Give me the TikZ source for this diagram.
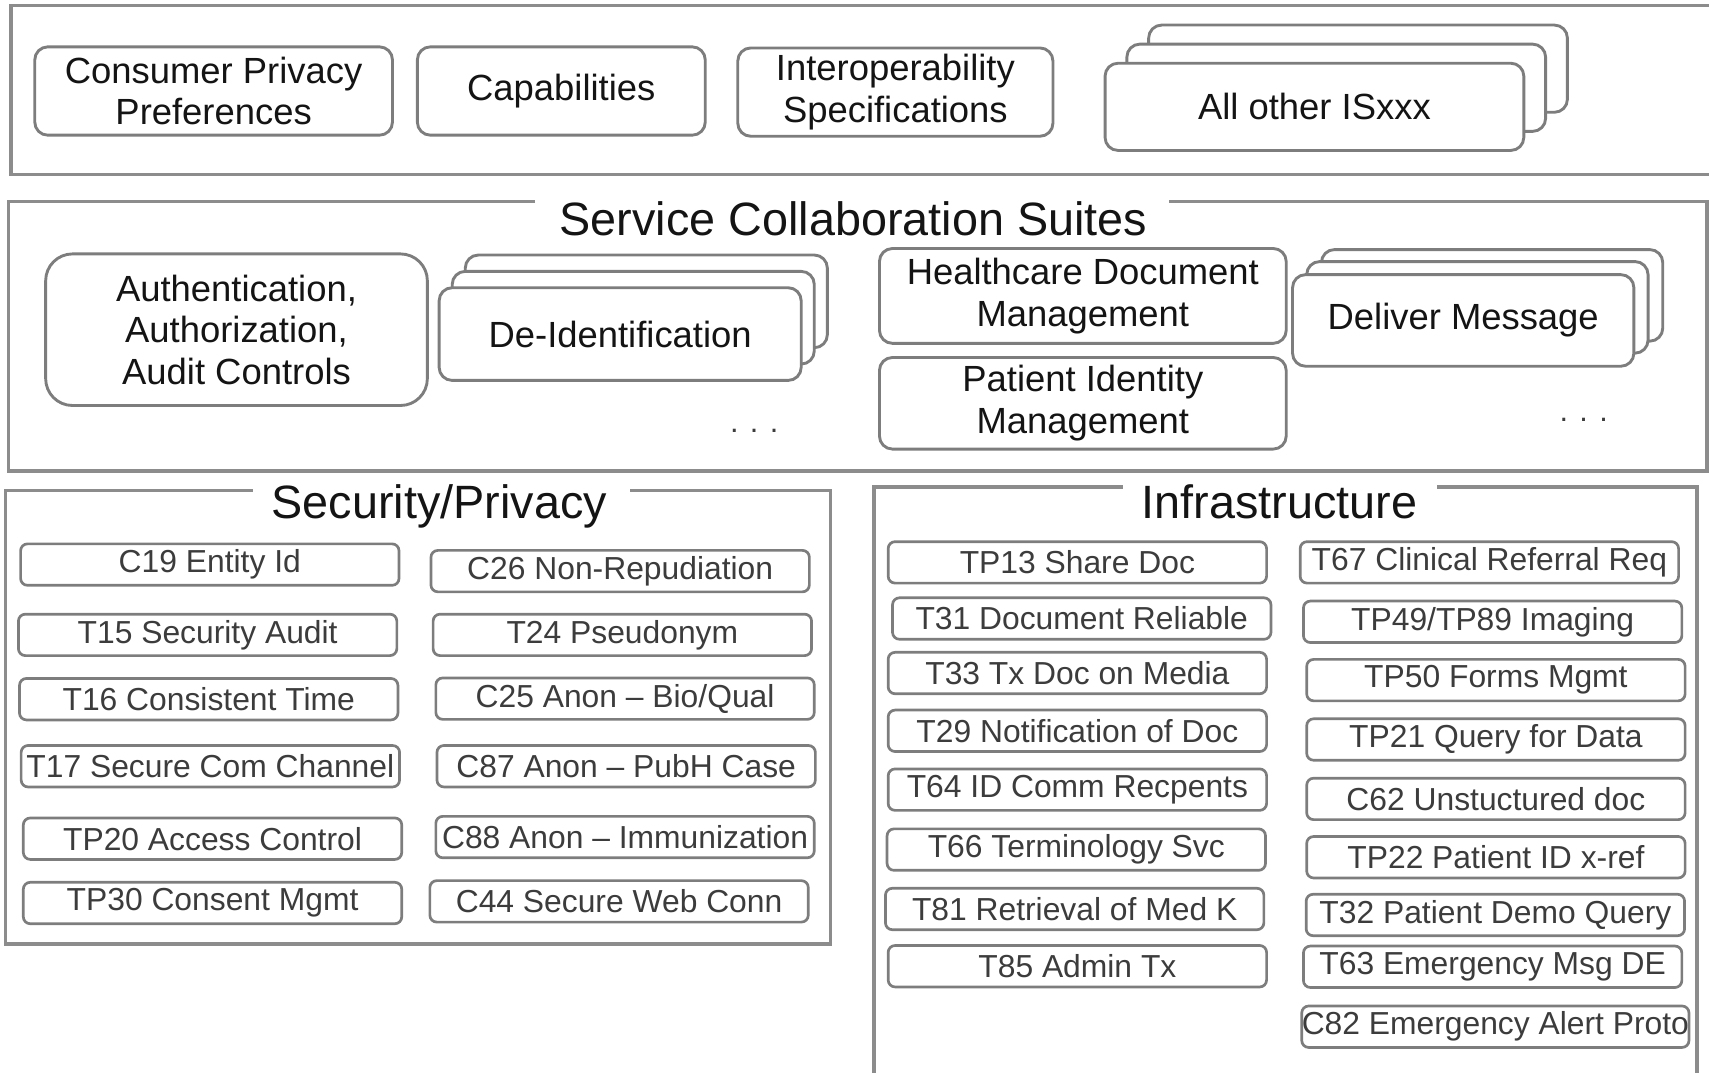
\documentclass[tikz,border=0pt]{standalone}
\usepackage{fontspec}
\setmainfont{Liberation Sans}
\definecolor{panelgray}{RGB}{140,140,140}
\definecolor{boxgray}{RGB}{125,125,125}
\definecolor{txtdark}{RGB}{20,20,20}
\definecolor{txtitem}{RGB}{60,60,60}
\begin{document}
\begin{tikzpicture}[x=0.01cm,y=-0.01cm,
  panel/.style={draw=panelgray,line width=0.9pt},
  bigbox/.style={draw=boxgray,line width=0.75pt,fill=white,rounded corners=3.4pt,inner sep=0pt,align=center,text=txtdark,font=\fontsize{9.5}{10.8}\selectfont},
  item/.style={draw=boxgray,line width=0.7pt,fill=white,rounded corners=1.8pt,inner sep=0pt,minimum width=3.47cm,minimum height=0.38cm,text=txtitem,font=\fontsize{8.3}{9}\selectfont},
  title/.style={inner sep=0pt,text=txtdark,font=\fontsize{12.2}{13}\selectfont},
  dots/.style={inner sep=0pt,text=txtitem,font=\fontsize{8}{9}\selectfont}]
\useasboundingbox (0,0) rectangle (1568,984);

% ---------- top panel ----------
\draw[panel] (1575,5) -- (10,5) -- (10,160) -- (1575,160);
\node[bigbox,minimum width=3.28cm,minimum height=0.81cm] (cpp) at (196,83.5) {Consumer Privacy\\Preferences};
\node[bigbox,minimum width=2.64cm,minimum height=0.81cm] (cap) at (515,83.5) {Capabilities};
\node[bigbox,minimum width=2.89cm,minimum height=0.81cm] (isp) at (821.5,84.5) {Interoperability\\Specifications};
\node[bigbox,minimum width=3.84cm,minimum height=0.80cm] (allc) at (1246,63) {};
\node[bigbox,minimum width=3.84cm,minimum height=0.80cm] (allb) at (1226,80.5) {};
\node[bigbox,minimum width=3.84cm,minimum height=0.80cm] (alla) at (1206,98) {All other ISxxx};

% ---------- service collaboration suites ----------
\draw[panel] (491,185) -- (8,185) -- (8,432) -- (1566,432) -- (1566,185) -- (1073,185);
\node[title] (scs) at (783,201) {Service Collaboration Suites};
\node[bigbox,rounded corners=7pt,minimum width=3.50cm,minimum height=1.39cm] (aaa) at (217,302.5) {Authentication,\\Authorization,\\Audit Controls};
\node[bigbox,minimum width=3.32cm,minimum height=0.85cm] (deic) at (593,276.5) {};
\node[bigbox,minimum width=3.32cm,minimum height=0.85cm] (deib) at (581,291.5) {};
\node[bigbox,minimum width=3.32cm,minimum height=0.85cm] (deia) at (569,306.5) {De-Identification};
\node[dots] (dots1) at (692,395) {. . .};
\node[bigbox,minimum width=3.73cm,minimum height=0.87cm] (hdm) at (993.5,271.5) {Healthcare Document\\Management};
\node[bigbox,minimum width=3.73cm,minimum height=0.84cm] (pim) at (993.5,370) {Patient Identity\\Management};
\node[bigbox,minimum width=3.13cm,minimum height=0.84cm] (dmc) at (1369,271) {};
\node[bigbox,minimum width=3.13cm,minimum height=0.84cm] (dmb) at (1355.5,282) {};
\node[bigbox,minimum width=3.13cm,minimum height=0.84cm] (dma) at (1342.5,294) {Deliver Message};
\node[dots] (dots2) at (1453,385) {. . .};

% ---------- security / privacy ----------
\draw[panel] (232,450) -- (5,450) -- (5,866) -- (762,866) -- (762,450) -- (578,450);
\node[title] (secp) at (403,465) {Security/Privacy};
\node[item] (c19) at (192.5,518) {C19 Entity Id};
\node[item] (t15) at (190.5,582.5) {T15 Security Audit};
\node[item] (t16) at (191.5,641.5) {T16 Consistent Time};
\node[item] (t17) at (193,703) {T17 Secure Com Channel};
\node[item] (tp20) at (195,769.5) {TP20 Access Control};
\node[item] (tp30) at (195,828.5) {TP30 Consent Mgmt};
\node[item] (c26) at (569,524) {C26 Non-Repudiation};
\node[item] (t24) at (571,582.5) {T24 Pseudonym};
\node[item] (c25) at (573.5,641) {C25 Anon -- Bio/Qual};
\node[item] (c87) at (574.5,703) {C87 Anon -- PubH Case};
\node[item] (c88) at (573.5,768) {C88 Anon -- Immunization};
\node[item] (c44) at (568,827) {C44 Secure Web Conn};

% ---------- infrastructure ----------
\draw[panel] (1030,447) -- (802,447) -- (802,995) (1557,995) -- (1557,447) -- (1318,447);
\node[title] (infra) at (1174,460) {Infrastructure};
\node[item] (tp13) at (988.5,516) {TP13 Share Doc};
\node[item] (t31) at (992.5,567.5) {T31 Document Reliable};
\node[item] (t33) at (988.5,617.5) {T33 Tx Doc on Media};
\node[item] (t29) at (988.5,670.5) {T29 Notification of Doc};
\node[item] (t64) at (988.5,724.5) {T64 ID Comm Recpents};
\node[item] (t66) at (987.5,779.5) {T66 Terminology Svc};
\node[item] (t81) at (986,834) {T81 Retrieval of Med K};
\node[item] (t85) at (988.5,886.5) {T85 Admin Tx};
\node[item] (t67) at (1366.5,516) {T67 Clinical Referral Req};
\node[item] (tp49) at (1369.5,570.5) {TP49/TP89 Imaging};
\node[item] (tp50) at (1372.5,624) {TP50 Forms Mgmt};
\node[item] (tp21) at (1372.5,678.5) {TP21 Query for Data};
\node[item] (c62) at (1372.5,733) {C62 Unstuctured doc};
\node[item] (tp22) at (1372.5,786.5) {TP22 Patient ID x-ref};
\node[item] (t32) at (1372,839.5) {T32 Patient Demo Query};
\node[item] (t63) at (1369.5,887) {T63 Emergency Msg DE};
\node[item] (c82) at (1372,942) {C82 Emergency Alert Proto};
\end{tikzpicture}
\end{document}
